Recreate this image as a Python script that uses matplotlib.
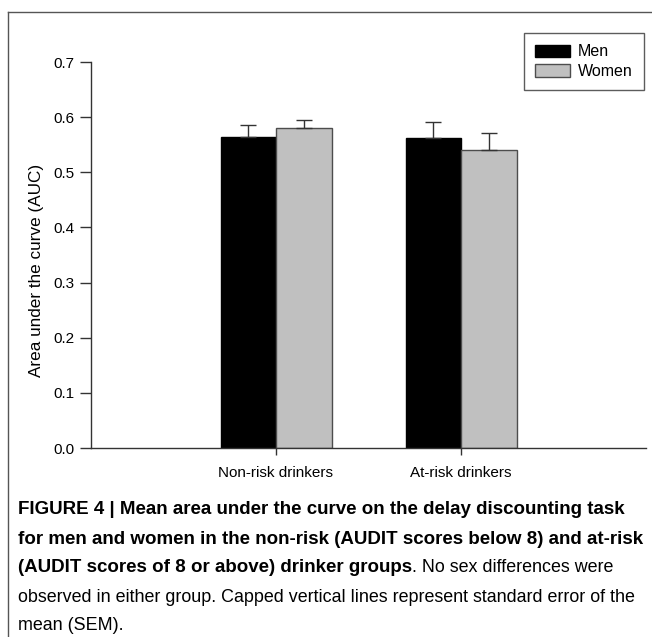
import matplotlib.pyplot as plt
import numpy as np

# data
groups = ['Non-risk drinkers', 'At-risk drinkers']
men = [0.564, 0.562]
women = [0.580, 0.541]
men_sem = [0.021, 0.030]
women_sem = [0.014, 0.031]

caption_bold = [
    'FIGURE 4 | Mean area under the curve on the delay discounting task',
    'for men and women in the non-risk (AUDIT scores below 8) and at-risk',
    '(AUDIT scores of 8 or above) drinker groups',
]
caption_rest = [
    '. No sex differences were',
    'observed in either group. Capped vertical lines represent standard error of the',
    'mean (SEM).',
]

plt.rcParams['font.family'] = ['Liberation Sans', 'DejaVu Sans']

fig = plt.figure(figsize=(6.52, 6.37), dpi=100)
W, H = 652, 637
ax = fig.add_axes([91 / W, 1 - 448 / H, (646 - 91) / W, (448 - 62) / H])

x = np.arange(1, len(groups) + 1)
w = 0.3
err_kw = dict(ecolor='#333333', elinewidth=1.0, capsize=6, capthick=1.0)
ax.bar(x - w / 2, men, w, color='black', edgecolor='black', linewidth=1,
       yerr=[np.zeros(len(men)), men_sem], error_kw=err_kw, label='Men', zorder=2)
ax.bar(x + w / 2, women, w, color='#c0c0c0', edgecolor='#4d4d4d', linewidth=1,
       yerr=[np.zeros(len(women)), women_sem], error_kw=err_kw, label='Women', zorder=2)

ax.set_xlim(0, 3)
ax.set_ylim(0, 0.7)
ax.set_yticks(np.arange(0, 0.71, 0.1))
ax.set_yticklabels([f'{v:.1f}' for v in np.arange(0, 0.71, 0.1)])
ax.set_xticks(x)
ax.set_xticklabels(groups)
ax.tick_params(axis='y', length=8, width=1, pad=4, labelsize=11, color='#333333')
ax.tick_params(axis='x', length=5, width=1, pad=8, labelsize=11, color='#333333')
for s in ['top', 'right']:
    ax.spines[s].set_visible(False)
for s in ['left', 'bottom']:
    ax.spines[s].set_linewidth(1)
    ax.spines[s].set_color('#333333')
ax.set_ylabel('Area under the curve (AUC)', fontsize=12.3)
ax.yaxis.set_label_coords(44 / W, 1 - 270 / H, transform=fig.transFigure)

leg = ax.legend(loc='upper right', bbox_to_anchor=(644 / W, 1 - 33 / H),
                bbox_transform=fig.transFigure, frameon=True, fancybox=False,
                fontsize=11.5, handlelength=2.2, handleheight=0.8,
                borderpad=0.7, labelspacing=0.3, handletextpad=0.5,
                borderaxespad=0)
leg.get_frame().set_edgecolor('#333333')
leg.get_frame().set_linewidth(1)

# border lines of the figure panel
fig.add_artist(plt.Line2D([8 / W, 8 / W], [0, 1 - 12 / H], color='#555555', lw=1))
fig.add_artist(plt.Line2D([8 / W, 1], [1 - 12 / H, 1 - 12 / H], color='#555555', lw=1))

# caption
cap_font = ['Liberation Sans', 'DejaVu Sans']
line_y = [510, 539, 568, 597, 625]
for i, yy in enumerate(line_y):
    yf = 1 - yy / H
    bold = caption_bold[i] if i < len(caption_bold) else ''
    rest = caption_rest[i - 2] if i >= 2 else ''
    if bold:
        t = fig.text(18 / W, yf, bold, fontsize=13.5, fontweight='bold',
                     family=cap_font, va='center', ha='left')
        if rest:
            ax.annotate(rest, xy=(1, 0), xycoords=t, va='bottom', ha='left',
                        fontsize=12.9, family=cap_font, annotation_clip=False)
    else:
        fig.text(18 / W, yf, rest, fontsize=12.9, family=cap_font,
                 va='center', ha='left')

fig.savefig('out.png', dpi=100)
